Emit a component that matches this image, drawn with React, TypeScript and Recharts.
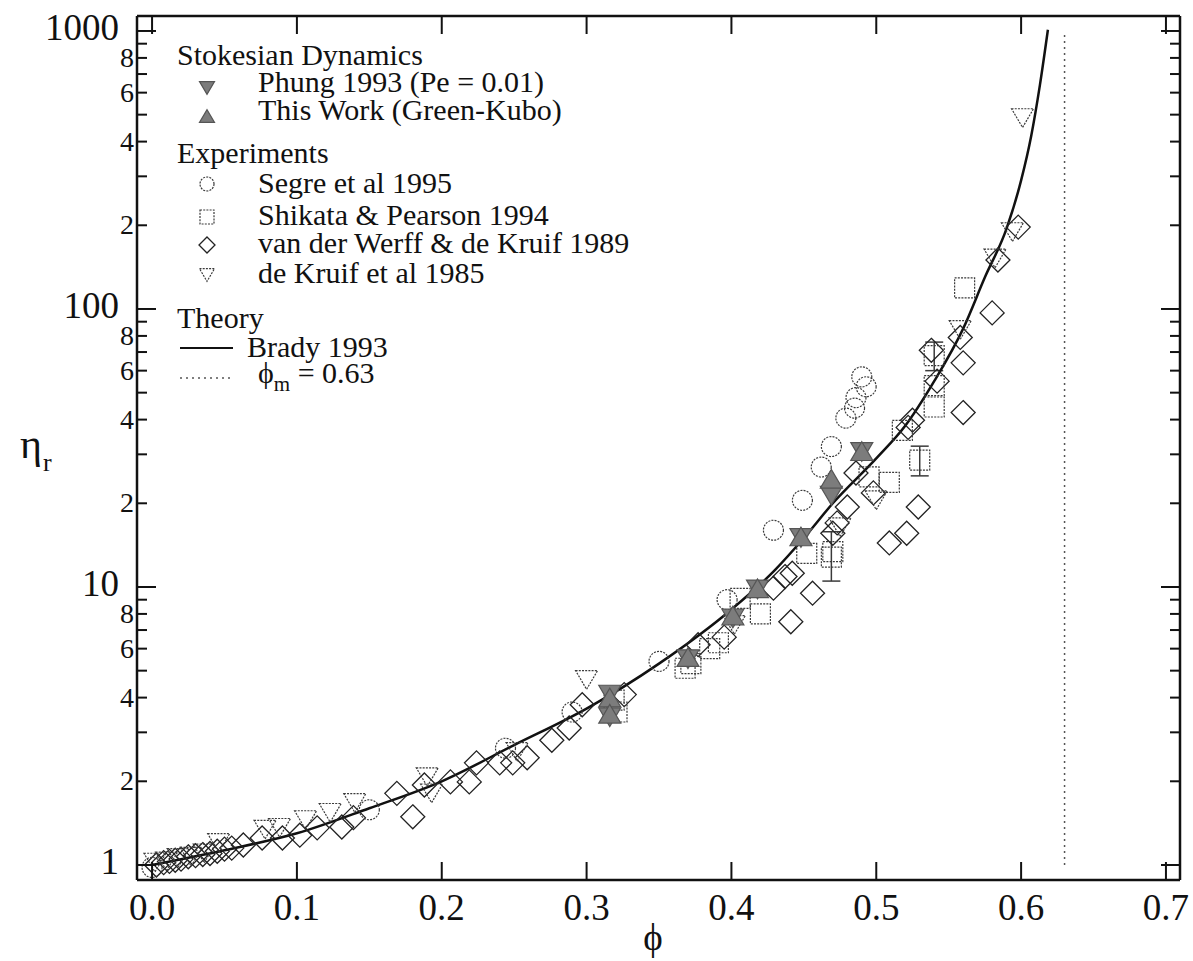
import React from "react";
import {
  ComposedChart,
  Line,
  Scatter,
  XAxis,
  YAxis,
  Legend,
  ErrorBar,
} from "recharts";

// Brady 1993 theory curve
const bradyPhi = [0, 0.05, 0.1, 0.15, 0.2, 0.25, 0.3, 0.35, 0.4, 0.43, 0.45, 0.47, 0.5, 0.52, 0.54, 0.56, 0.575, 0.59, 0.6, 0.607, 0.613, 0.6185];
const bradyEta = [1.0, 1.13, 1.3, 1.6, 2.0, 2.7, 3.65, 5.3, 8.3, 11.5, 15, 20, 29, 38, 55, 85, 130, 195, 290, 420, 640, 1010];

const phiMax = [0.63, 0.63];
const phiMaxEta = [1, 1000];

// Stokesian dynamics
const phungPhi = [0.316, 0.316, 0.37, 0.401, 0.418, 0.448, 0.469, 0.49];
const phungEta = [4.1, 3.4, 5.5, 7.7, 9.8, 15, 21.3, 30.6];
const thisWorkPhi = [0.316, 0.316, 0.37, 0.401, 0.418, 0.448, 0.469, 0.49];
const thisWorkEta = [4.0, 3.5, 5.6, 7.9, 9.9, 15.2, 24.5, 30.8];

// Experiments
const segrePhi = [0.0, 0.15, 0.244, 0.29, 0.35, 0.397, 0.429, 0.449, 0.462, 0.469, 0.479, 0.485, 0.486, 0.49, 0.493];
const segreEta = [0.98, 1.58, 2.63, 3.55, 5.4, 9.0, 16.0, 20.5, 27, 32, 40.5, 44, 48, 57, 52.5];

const shikataPhi = [0.319, 0.321, 0.368, 0.372, 0.385, 0.391, 0.406, 0.42, 0.452, 0.47, 0.495, 0.509, 0.518, 0.54, 0.54, 0.561];
const shikataEta = [3.92, 3.55, 5.1, 5.3, 6.0, 6.3, 9.1, 8.0, 13.2, 13.4, 24.9, 23.8, 36.6, 44.4, 53, 119];
const shikataErrPhi = [0.469, 0.53, 0.54];
const shikataErrEta = [12.8, 28.6, 68];
const shikataErrLow = [2.3, 3.5, 8];
const shikataErrHigh = [3.0, 3.5, 8];

const werffPhi = [0.003, 0.008, 0.012, 0.016, 0.02, 0.025, 0.03, 0.035, 0.04, 0.045, 0.05, 0.055, 0.063, 0.076, 0.09, 0.102, 0.114, 0.131, 0.139, 0.169, 0.18, 0.188, 0.206, 0.219, 0.224, 0.24, 0.249, 0.259, 0.276, 0.288, 0.297, 0.326, 0.377, 0.395, 0.429, 0.437, 0.442, 0.456, 0.441, 0.47, 0.473, 0.48, 0.486, 0.498, 0.509, 0.521, 0.522, 0.525, 0.529, 0.538, 0.542, 0.56, 0.56, 0.558, 0.58, 0.584, 0.598];
const werffEta = [1.0, 1.02, 1.03, 1.04, 1.05, 1.07, 1.08, 1.09, 1.1, 1.12, 1.14, 1.15, 1.18, 1.25, 1.25, 1.28, 1.36, 1.37, 1.48, 1.81, 1.49, 1.94, 1.99, 1.99, 2.33, 2.33, 2.33, 2.43, 2.81, 3.11, 3.77, 4.1, 6.2, 6.6, 9.9, 10.9, 11.2, 9.5, 7.5, 15.6, 17.0, 19.4, 25.7, 21.8, 14.4, 15.6, 37.5, 39.8, 19.4, 71, 55, 42.4, 64, 79, 96.8, 150, 197];

const kruifPhi = [0.002, 0.01, 0.018, 0.027, 0.036, 0.046, 0.078, 0.088, 0.106, 0.123, 0.14, 0.19, 0.193, 0.252, 0.3, 0.402, 0.475, 0.5, 0.558, 0.582, 0.594, 0.601];
const kruifEta = [1.02, 1.03, 1.06, 1.07, 1.1, 1.2, 1.34, 1.36, 1.45, 1.54, 1.67, 2.07, 1.81, 2.55, 4.63, 7.3, 16.4, 20.5, 84, 152, 189, 486];

// ticks
const xTicks = [0, 0.1, 0.2, 0.3, 0.4, 0.5, 0.6, 0.7];
const yTicks = [1, 2, 3, 4, 5, 6, 7, 8, 9, 10, 20, 30, 40, 50, 60, 70, 80, 90, 100, 200, 300, 400, 500, 600, 700, 800, 900, 1000];

const zip = (xs: number[], ys: number[]) => xs.map((phi, i) => ({ phi, eta: ys[i] }));

const bradyData = zip(bradyPhi, bradyEta);
const phiMaxData = zip(phiMax, phiMaxEta);
const phungData = zip(phungPhi, phungEta);
const thisWorkData = zip(thisWorkPhi, thisWorkEta);
const segreData = zip(segrePhi, segreEta);
const shikataData = zip(shikataPhi, shikataEta);
const shikataErrData = shikataErrPhi.map((phi, i) => ({
  phi,
  eta: shikataErrEta[i],
  err: [shikataErrLow[i], shikataErrHigh[i]],
}));
const werffData = zip(werffPhi, werffEta);
const kruifData = zip(kruifPhi, kruifEta);

const W = 1193;
const H = 961;
const X_DOMAIN = [-0.0104, 0.7097];
const Y_DOMAIN = [0.883, 1132];
const FONT = "'Liberation Serif', 'Times New Roman', serif";
const INK = "#111";
const OPEN = "#3a3a3a";
const FILL = "#7c7c7c";

// marker shapes
function triDown(cx: number, cy: number, s: number, filled: boolean) {
  const h = s * 0.85;
  return (
    <polygon
      points={`${cx - s / 2},${cy - h / 2} ${cx + s / 2},${cy - h / 2} ${cx},${cy + h / 2}`}
      fill={filled ? FILL : "none"}
      stroke={filled ? "#555" : OPEN}
      strokeWidth={1.2}
      strokeDasharray={filled ? undefined : "2 1.2"}
    />
  );
}
function triUp(cx: number, cy: number, s: number, filled: boolean) {
  const h = s * 0.85;
  return (
    <polygon
      points={`${cx - s / 2},${cy + h / 2} ${cx + s / 2},${cy + h / 2} ${cx},${cy - h / 2}`}
      fill={filled ? FILL : "none"}
      stroke={filled ? "#555" : OPEN}
      strokeWidth={1.2}
    />
  );
}
function circ(cx: number, cy: number, r: number) {
  return <circle cx={cx} cy={cy} r={r} fill="none" stroke={OPEN} strokeWidth={1.2} strokeDasharray="2 1.2" />;
}
function sq(cx: number, cy: number, s: number) {
  return (
    <rect x={cx - s / 2} y={cy - s / 2} width={s} height={s} fill="none" stroke={OPEN} strokeWidth={1.2} strokeDasharray="2 1.2" />
  );
}
function dia(cx: number, cy: number, s: number) {
  const r = s / 2;
  return (
    <polygon
      points={`${cx},${cy - r} ${cx + r},${cy} ${cx},${cy + r} ${cx - r},${cy}`}
      fill="none"
      stroke="#222"
      strokeWidth={1.3}
    />
  );
}

const phungShape = (p: any) => triDown(p.cx, p.cy, 22, true);
const thisWorkShape = (p: any) => triUp(p.cx, p.cy, 22, true);
const segreShape = (p: any) => circ(p.cx, p.cy, 10);
const shikataShape = (p: any) => sq(p.cx, p.cy, 20);
const werffShape = (p: any) => dia(p.cx, p.cy, 24);
const kruifShape = (p: any) => triDown(p.cx, p.cy, 22, false);

function mantissa(v: number) {
  const e = Math.floor(Math.log10(v) + 1e-9);
  return Math.round(v / Math.pow(10, e));
}

function LeftTick(props: any) {
  const { x, y, payload } = props;
  const m = mantissa(payload.value);
  const major = m === 1;
  const labelled = major || m % 2 === 0;
  return (
    <g>
      <line x1={x} x2={x + (major ? 19 : 10)} y1={y} y2={y} stroke={INK} strokeWidth={2} />
      {labelled && (
        <text
          x={major ? x - 18 : x - 3}
          y={y + 9}
          textAnchor="end"
          fontFamily={FONT}
          fontSize={major ? 37 : 28}
          fill={INK}
        >
          {major ? payload.value : m}
        </text>
      )}
    </g>
  );
}

function RightTick(props: any) {
  const { x, y, payload } = props;
  const major = mantissa(payload.value) === 1;
  return <line x1={x} x2={x - (major ? 19 : 10)} y1={y} y2={y} stroke={INK} strokeWidth={2} />;
}

function BottomTick(props: any) {
  const { x, y, payload } = props;
  return (
    <g>
      <line x1={x} x2={x} y1={y} y2={y - 18} stroke={INK} strokeWidth={2} />
      <text x={x} y={y + 40} textAnchor="middle" fontFamily={FONT} fontSize={37} fill={INK}>
        {payload.value.toFixed(1)}
      </text>
    </g>
  );
}

function TopTick(props: any) {
  const { x, y } = props;
  return <line x1={x} x2={x} y1={y} y2={y + 18} stroke={INK} strokeWidth={2} />;
}

const legendHeaders = ["Stokesian Dynamics", "Experiments", "Theory"];
const legendSeries = [
  "Phung 1993 (Pe = 0.01)",
  "This Work (Green-Kubo)",
  "Segre et al 1995",
  "Shikata & Pearson 1994",
  "van der Werff & de Kruif 1989",
  "de Kruif et al 1985",
  "Brady 1993",
];

function LegendBox() {
  const tx = 258;
  const mx = 207;
  const hx = 177;
  const t = { fontFamily: FONT, fontSize: 30, fill: INK } as const;
  return (
    <svg width={700} height={420} style={{ overflow: "visible" }}>
      <text x={hx} y={65} {...t}>{legendHeaders[0]}</text>
      {triDown(mx, 88, 15, true)}
      <text x={tx} y={92} {...t}>{legendSeries[0]}</text>
      {triUp(mx, 116, 15, true)}
      <text x={tx} y={120} {...t}>{legendSeries[1]}</text>
      <text x={hx} y={163} {...t}>{legendHeaders[1]}</text>
      {circ(mx, 184, 7)}
      <text x={tx} y={193} {...t}>{legendSeries[2]}</text>
      {sq(mx, 217, 14)}
      <text x={tx} y={225} {...t}>{legendSeries[3]}</text>
      {dia(mx, 245, 16)}
      <text x={tx} y={253} {...t}>{legendSeries[4]}</text>
      {triDown(mx, 275, 15, false)}
      <text x={tx} y={283} {...t}>{legendSeries[5]}</text>
      <text x={hx} y={328} {...t}>{legendHeaders[2]}</text>
      <line x1={180} x2={233} y1={348} y2={348} stroke={INK} strokeWidth={2} />
      <text x={247} y={357} {...t}>{legendSeries[6]}</text>
      <line x1={180} x2={233} y1={378} y2={378} stroke="#555" strokeWidth={1.5} strokeDasharray="2 4" />
      <text x={tx} y={383} {...t}>
        ϕ<tspan fontSize={21} dy={8}>m</tspan>
        <tspan dy={-8}> = 0.63</tspan>
      </text>
    </svg>
  );
}

export default function App() {
  return (
    <div style={{ width: W, height: H, position: "relative", background: "#fff", overflow: "hidden" }}>
      <style>{"body{margin:0}"}</style>
      <ComposedChart width={W} height={H} margin={{ top: 15, right: 12, left: 0, bottom: 0 }}>
        <XAxis
          dataKey="phi"
          type="number"
          domain={X_DOMAIN}
          allowDataOverflow
          ticks={xTicks}
          tick={<BottomTick />}
          tickLine={false}
          tickSize={0}
          tickMargin={0}
          height={81}
          axisLine={{ stroke: INK, strokeWidth: 2.5 }}
          interval={0}
        />
        <XAxis
          xAxisId="top"
          orientation="top"
          dataKey="phi"
          type="number"
          domain={X_DOMAIN}
          allowDataOverflow
          ticks={xTicks}
          tick={<TopTick />}
          tickLine={false}
          tickSize={0}
          tickMargin={0}
          height={1}
          axisLine={{ stroke: INK, strokeWidth: 2.5 }}
          interval={0}
        />
        <YAxis
          type="number"
          scale="log"
          domain={Y_DOMAIN}
          allowDataOverflow
          ticks={yTicks}
          tick={<LeftTick />}
          tickLine={false}
          tickSize={0}
          tickMargin={0}
          width={137}
          axisLine={{ stroke: INK, strokeWidth: 2.5 }}
          interval={0}
        />
        <YAxis
          yAxisId="right"
          orientation="right"
          type="number"
          scale="log"
          domain={Y_DOMAIN}
          allowDataOverflow
          ticks={yTicks}
          tick={<RightTick />}
          tickLine={false}
          tickSize={0}
          tickMargin={0}
          width={1}
          axisLine={{ stroke: INK, strokeWidth: 2.5 }}
          interval={0}
        />
        <Legend
          layout="vertical"
          align="center"
          verticalAlign="middle"
          content={() => <LegendBox />}
          wrapperStyle={{ position: "absolute", left: 0, top: 0, width: 700, height: 420, pointerEvents: "none" }}
        />
        <Line
          data={phiMaxData}
          dataKey="eta"
          xAxisId="top"
          yAxisId="right"
          type="linear"
          stroke="#555"
          strokeWidth={1.5}
          strokeDasharray="2 4"
          dot={false}
          isAnimationActive={false}
        />
        <Scatter data={werffData} dataKey="eta" shape={werffShape} isAnimationActive={false} />
        <Scatter data={kruifData} dataKey="eta" shape={kruifShape} isAnimationActive={false} />
        <Scatter data={segreData} dataKey="eta" shape={segreShape} isAnimationActive={false} />
        <Scatter data={shikataData} dataKey="eta" shape={shikataShape} isAnimationActive={false} />
        <Scatter data={shikataErrData} dataKey="eta" shape={shikataShape} isAnimationActive={false}>
          <ErrorBar dataKey="err" direction="y" width={9} stroke={OPEN} strokeWidth={1.5} />
        </Scatter>
        <Scatter data={phungData} dataKey="eta" shape={phungShape} isAnimationActive={false} />
        <Scatter data={thisWorkData} dataKey="eta" shape={thisWorkShape} isAnimationActive={false} />
        <Line
          data={bradyData}
          dataKey="eta"
          type="monotone"
          stroke={INK}
          strokeWidth={2.5}
          dot={false}
          isAnimationActive={false}
        />
      </ComposedChart>
      <svg
        width={W}
        height={H}
        style={{ position: "absolute", left: 0, top: 0, pointerEvents: "none" }}
      >
        <text x={653} y={950} textAnchor="middle" fontFamily={FONT} fontSize={37} fill={INK}>
          ϕ
        </text>
        <text x={20} y={458} fontFamily={FONT} fontSize={42} fill={INK}>
          η
        </text>
        <text x={43} y={471} fontFamily={FONT} fontSize={26} fill={INK}>
          r
        </text>
      </svg>
    </div>
  );
}
